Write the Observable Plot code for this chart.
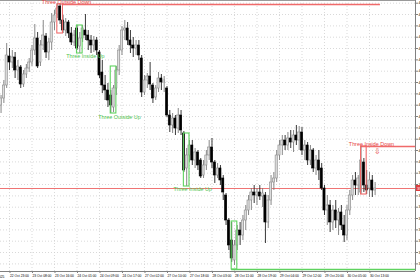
<!DOCTYPE html>
<html><head><meta charset="utf-8">
<script src="https://cdn.jsdelivr.net/npm/d3@7"></script>
<script src="https://cdn.jsdelivr.net/npm/@observablehq/plot@0.6"></script>
<style>html,body{margin:0;padding:0;background:#fff;overflow:hidden}</style>
</head><body><div id="chart"></div>
<script>
// XAUUSD H1 (approx.)
const opens  = [4065,4072,4085,4114,4108,4113,4100,4103,4086,4096,4102,4108,4120,4132,4108,4125,4134,4118,4128,4148,4156,4164,4150,4140,4148,4137,4128,4142,4124,4132,4140,4135,4130,4125,4130,4118,4098,4085,4080,4075,4063,4082,4100,4120,4140,4142,4130,4125,4122,4125,4112,4078,4090,4094,4085,4073,4082,4092,4088,4082,4055,4045,4052,4042,4055,4037,4002,4015,4025,4010,4018,4010,3995,4005,4015,4023,4008,3995,4002,3992,3975,3950,3930,3910,3925,3940,3935,3950,3960,3970,3978,3975,3978,3974,3975,3948,3970,3988,3992,4015,4025,4030,4025,4032,4028,4035,4030,4038,4020,4025,4010,4020,4002,4010,4002,3982,3960,3965,3948,3960,3950,3958,3945,3935,3960,3975,3990,3985,3978,4008,3985,3982,3990,3980];
const highs  = [4075,4090,4127,4122,4120,4118,4110,4105,4100,4106,4112,4125,4146,4138,4130,4150,4137,4132,4157,4160,4167,4166,4155,4152,4150,4143,4140,4145,4138,4145,4156,4140,4135,4134,4133,4120,4110,4095,4087,4080,4085,4104,4125,4144,4150,4148,4140,4133,4130,4130,4115,4095,4097,4108,4087,4085,4098,4096,4094,4084,4060,4057,4055,4062,4060,4039,4022,4030,4030,4022,4020,4012,4010,4020,4030,4032,4010,4007,4005,3995,3977,3952,3948,3930,3945,3948,3955,3965,3975,3982,3985,3982,3985,3982,3978,3975,3995,3998,4020,4030,4035,4035,4038,4040,4040,4045,4044,4043,4030,4028,4025,4022,4015,4020,4007,3985,3975,3970,3965,3970,3962,3965,3955,3965,3980,3995,3998,3995,4024,4012,4000,3998,3995,3988];
const lows   = [4057,4067,4082,4100,4102,4092,4090,4082,4083,4092,4098,4104,4115,4102,4104,4120,4112,4110,4120,4140,4152,4146,4137,4134,4132,4125,4124,4120,4117,4128,4130,4120,4117,4118,4115,4092,4077,4070,4063,4057,4058,4075,4095,4115,4130,4125,4117,4113,4115,4110,4073,4075,4082,4080,4067,4070,4078,4080,4078,4053,4038,4037,4035,4037,4035,3998,3984,4008,4005,4002,4000,3992,3992,4000,4010,4002,3987,3992,3985,3970,3945,3920,3908,3905,3920,3925,3930,3940,3955,3960,3967,3965,3970,3963,3927,3942,3965,3980,3988,4010,4015,4020,4020,4022,4018,4025,4020,4015,4010,4005,4005,3998,3995,3990,3980,3955,3945,3938,3940,3942,3935,3940,3928,3930,3955,3970,3975,3975,3976,3978,3976,3973,3973,3975];
const closes = [4072,4085,4115,4108,4113,4100,4104,4086,4096,4102,4108,4120,4132,4104,4125,4135,4118,4128,4148,4155,4162,4150,4140,4148,4137,4128,4135,4122,4132,4142,4135,4130,4125,4130,4120,4095,4085,4080,4070,4065,4082,4100,4120,4140,4142,4130,4125,4122,4125,4115,4078,4090,4094,4086,4072,4082,4092,4088,4090,4055,4045,4052,4042,4055,4040,4000,4015,4025,4010,4018,4005,3994,4005,4015,4023,4008,3995,4002,3990,3978,3950,3925,3912,3925,3940,3935,3950,3960,3970,3978,3975,3978,3974,3977,3948,3970,3988,3992,4015,4025,4030,4025,4032,4028,4035,4030,4038,4020,4025,4010,4020,4002,4010,4000,3982,3960,3965,3948,3960,3950,3958,3945,3935,3960,3975,3990,3985,3992,4010,3985,3980,3990,3980,3982];

// x-axis tick bars and labels
const xTickBars = [3,11,19,27,35,43,51,59,67,75,83,91,99,107,115,123,131];
const xTickLabels = ["22 Oct 23:00","23 Oct 08:00","23 Oct 16:00","24 Oct 01:00","24 Oct 09:00","24 Oct 17:00","27 Oct 02:00","27 Oct 10:00","27 Oct 18:00","28 Oct 03:00","28 Oct 11:00","28 Oct 19:00","29 Oct 04:00","29 Oct 12:00","29 Oct 20:00","30 Oct 05:00","30 Oct 13:00"];
const firstDateLabel = "22 Oct 2025";
// y-axis price ticks
const yTicks = [4167.3,4156.0,4144.6,4133.3,4122.0,4110.6,4099.3,4088.0,4076.6,4065.3,4054.0,4042.6,4031.3,4020.0,4008.6,3997.3,3986.0,3974.6,3963.3,3952.0,3940.6,3929.3,3918.0,3906.6];

// candlestick pattern annotations
const patternNames  = ["Three Outside Down","Three Inside Up","Three Outside Up","Three Inside Up","Three Outside Up","Three Inside Down"];
const patternKinds  = ["bear","bull","bull","bull","bull","bear"];
const patternStart  = [20,27,39,65,82,128];
const patternEnd    = [22,29,41,67,84,130];
const patternHigh   = [4166,4145,4104,4037,3949,4024];
const patternLow    = [4137,4117,4057,3984,3901,3976];
const labelBar      = [23.3,30.0,42.1,68.1,null,131.7];
const labelPrice    = [4168.6,4114,4053,3981,null,4026];
// resistance / support lines (price, from bar, to bar)
const levelPrice = [4166,3901,4024];
const levelFrom  = [22,82,128];
const levelTo    = [134.9,147.4,147.4];
const levelKind  = ["bear","bull","bear"];
const bidPrice = 3982;

const bars = opens.map((o,i)=>({i, o, h: highs[i], l: lows[i], c: closes[i], up: closes[i] >= o}));
const patterns = patternNames.map((n,k)=>({n, kind: patternKinds[k], x1: patternStart[k], x2: patternEnd[k], y1: patternLow[k], y2: patternHigh[k], lx: labelBar[k], ly: labelPrice[k]}));
const levels = levelPrice.map((p,k)=>({p, x1: levelFrom[k], x2: levelTo[k], kind: levelKind[k]}));
const RED = "#f06a6a", GREEN = "#5fd35f";
const col = k => k === "bear" ? RED : GREEN;
const X0 = -0.2, X1 = 147.36, Y0 = 3899, Y1 = 4170;
const labelMap = new Map(xTickBars.map((b,k)=>[b, xTickLabels[k]]));

const chart = Plot.plot({
  width: 420, height: 280,
  marginLeft: 0, marginRight: 5, marginTop: 0, marginBottom: 9,
  x: {type: "linear", domain: [X0, X1], axis: null},
  y: {domain: [Y0, Y1], axis: null},
  style: {background: "#fff", fontFamily: "Liberation Sans", color: "#000"},
  marks: [
    // grid
    Plot.ruleX(xTickBars, {x: d=>d, y1: Y0, y2: Y1, stroke: "#cfcfcf", strokeDasharray: "1,2", strokeWidth: 0.8}),
    Plot.ruleY(yTicks, {y: d=>d, x1: X0, x2: X1, stroke: "#cfcfcf", strokeDasharray: "1,2", strokeWidth: 0.8}),
    // frame
    Plot.ruleY([Y1], {x1: X0, x2: X1, stroke: "#9a9a9a", strokeWidth: 1}),
    Plot.ruleY([Y0], {x1: X0, x2: X1, stroke: "#808080", strokeWidth: 1}),
    Plot.ruleX([X1], {y1: Y0, y2: Y1, stroke: "#808080", strokeWidth: 1}),
    // bid line
    Plot.ruleY([bidPrice], {x1: X0, x2: X1, stroke: "#ef7474", strokeWidth: 1}),
    // levels
    Plot.ruleY(levels, {y: "p", x1: "x1", x2: "x2", stroke: d=>col(d.kind), strokeWidth: 1.6}),
    // wicks
    Plot.ruleX(bars, {x: "i", y1: "l", y2: "h", stroke: d=> d.up ? "#7a7a7a" : "#222", strokeWidth: 0.9}),
    // bodies
    Plot.rect(bars, {x1: d=>d.i-0.38, x2: d=>d.i+0.38, y1: "o", y2: "c",
      fill: d=> d.up ? "#dcdcdc" : "#000", stroke: d=> d.up ? "#8a8a8a" : "#000", strokeWidth: 0.6}),
    // pattern boxes
    Plot.rect(patterns, {x1: "x1", x2: "x2", y1: "y1", y2: "y2", fill: "none", stroke: d=>col(d.kind), strokeWidth: 1.1}),
    Plot.text(patterns.filter(d=>d.lx != null), {x: "lx", y: "ly", text: "n", fill: d=> d.kind==="bear" ? "#e64545" : "#4ec44e", fontSize: 5.4}),
    Plot.text(["\u21E9"], {x: 133.8, y: 4019, text: d=>d, fill: "#e64545", fontSize: 8}),
    // axes
    Plot.axisY(yTicks, {anchor: "right", tickSize: 2, tickPadding: 1, tickFormat: d=>d.toFixed(2), fontSize: 4, stroke: "#808080"}),
    Plot.axisX(xTickBars, {anchor: "bottom", tickSize: 2, tickPadding: 1.5, tickFormat: d=>labelMap.get(d), textAnchor: "start", dx: 0.5, fontSize: 3.3, stroke: "#808080"}),
    Plot.text([firstDateLabel], {x: 1.2, y: Y0, text: d=>d, textAnchor: "end", dy: 5.5, fontSize: 3.3}),
    // bid label on axis
    Plot.rect([bidPrice], {x1: X1 + 0.3, x2: X1 + 3, y1: d=>d-3, y2: d=>d+3, fill: "#e03c3c"}),
    Plot.text([bidPrice], {x: X1 + 0.5, y: d=>d, text: d=>d.toFixed(2), textAnchor: "start", fill: "#fff", fontSize: 4})
  ]
});
document.getElementById("chart").append(chart);
</script>
</body></html>
